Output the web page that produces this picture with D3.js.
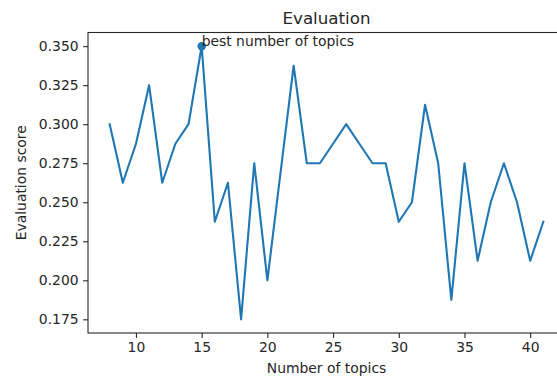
<!DOCTYPE html>
<html>
<head>
<meta charset="utf-8">
<script src="https://cdn.jsdelivr.net/npm/d3@7"></script>
<style>
  html, body { margin: 0; padding: 0; background: #fff; }
  svg { display: block; font-family: "DejaVu Sans", sans-serif; }
</style>
</head>
<body>
<script>
// ---- data ----
const topics = [8, 9, 10, 11, 12, 13, 14, 15, 16, 17, 18, 19, 20, 21, 22, 23, 24, 25, 26, 27, 28, 29, 30, 31, 32, 33, 34, 35, 36, 37, 38, 39, 40, 41];
const scores = [0.300, 0.2625, 0.2875, 0.325, 0.2625, 0.2875, 0.300, 0.350, 0.2375, 0.2625, 0.175, 0.275, 0.200, 0.26875, 0.3375, 0.275, 0.275, 0.2875, 0.300, 0.2875, 0.275, 0.275, 0.2375, 0.250, 0.3125, 0.275, 0.1875, 0.275, 0.2125, 0.250, 0.275, 0.250, 0.2125, 0.2375];
const xTicks = [10, 15, 20, 25, 30, 35, 40];
const yTicks = [0.175, 0.200, 0.225, 0.250, 0.275, 0.300, 0.325, 0.350];
const bestTopic = 15;
const bestScore = 0.350;
const titleText = "Evaluation";
const xLabel = "Number of topics";
const yLabel = "Evaluation score";
const annotationText = "best number of topics";

// ---- layout ----
const W = 557, H = 376;
const mLeft = 88, mRight = 565, mTop = 32.5, mBottom = 333;

const svg = d3.select("body").append("svg").attr("width", W).attr("height", H);

const xMin = d3.min(topics), xMax = d3.max(topics);
const xm = (xMax - xMin) * 0.05;
const yMin = d3.min(scores), yMax = d3.max(scores);
const ym = (yMax - yMin) * 0.05;

const x = d3.scaleLinear().domain([xMin - xm, xMax + xm]).range([mLeft, mRight]);
const y = d3.scaleLinear().domain([yMin - ym, yMax + ym]).range([mBottom, mTop]);

const textColor = "#262626";

// axes
const xAxis = d3.axisBottom(x).tickValues(xTicks).tickFormat(d3.format("d")).tickSizeInner(4.9).tickSizeOuter(0).tickPadding(4.5);
const yAxis = d3.axisLeft(y).tickValues(yTicks).tickFormat(d3.format(".3f")).tickSizeInner(4.9).tickSizeOuter(0).tickPadding(4.5);

const gx = svg.append("g").attr("transform", `translate(0,${mBottom})`).call(xAxis);
const gy = svg.append("g").attr("transform", `translate(${mLeft},0)`).call(yAxis);
[gx, gy].forEach(g => {
  g.select(".domain").remove();
  g.selectAll(".tick line").attr("stroke", textColor).attr("stroke-width", 1.1);
  g.selectAll(".tick text").attr("fill", textColor).attr("font-size", "13.9px").attr("font-family", "DejaVu Sans, sans-serif");
});

// spines
svg.append("rect")
  .attr("x", mLeft).attr("y", mTop)
  .attr("width", mRight - mLeft).attr("height", mBottom - mTop)
  .attr("fill", "none").attr("stroke", textColor).attr("stroke-width", 1.1);

// line
const line = d3.line().x((d, i) => x(topics[i])).y(d => y(d));
svg.append("path")
  .datum(scores)
  .attr("d", line)
  .attr("fill", "none")
  .attr("stroke", "#1f77b4")
  .attr("stroke-width", 2.1)
  .attr("stroke-linejoin", "round")
  .attr("stroke-linecap", "square");

// best point
svg.append("circle")
  .attr("cx", x(bestTopic)).attr("cy", y(bestScore)).attr("r", 4.2)
  .attr("fill", "#1f77b4");

svg.append("text")
  .attr("x", x(bestTopic)).attr("y", y(bestScore))
  .attr("fill", textColor).attr("font-size", "13.9px")
  .text(annotationText);

// title
svg.append("text")
  .attr("x", (mLeft + mRight) / 2).attr("y", 24.3)
  .attr("text-anchor", "middle")
  .attr("fill", textColor).attr("font-size", "16.7px")
  .text(titleText);

// axis labels
svg.append("text")
  .attr("x", (mLeft + mRight) / 2).attr("y", 373)
  .attr("text-anchor", "middle")
  .attr("fill", textColor).attr("font-size", "13.9px")
  .text(xLabel);

svg.append("text")
  .attr("transform", `translate(25.5,${(mTop + mBottom) / 2}) rotate(-90)`)
  .attr("text-anchor", "middle")
  .attr("fill", textColor).attr("font-size", "13.9px")
  .text(yLabel);
</script>
</body>
</html>
